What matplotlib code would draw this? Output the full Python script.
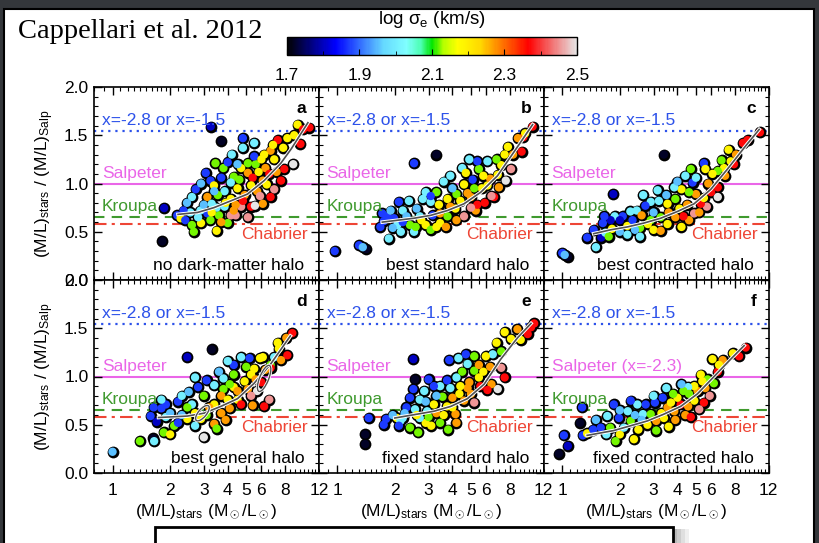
import numpy as np
import matplotlib.pyplot as plt
from matplotlib.colors import LinearSegmentedColormap, Normalize
from matplotlib.cm import ScalarMappable
from matplotlib.patches import Rectangle, Ellipse
from matplotlib.transforms import ScaledTranslation
from matplotlib.ticker import FixedLocator, NullFormatter
import matplotlib.patheffects as pe

plt.rcParams['font.family'] = ['Liberation Sans', 'DejaVu Sans']
plt.rcParams['mathtext.fontset'] = 'custom'
plt.rcParams['mathtext.rm'] = 'Liberation Sans'
plt.rcParams['mathtext.it'] = 'Liberation Sans:italic'
plt.rcParams['mathtext.bf'] = 'Liberation Sans:bold'

# colour levels (log sigma_e)
K, DB, B, LB, C, G, Y, O, R, P, W = 1.72, 1.80, 1.87, 1.95, 2.0, 2.12, 2.19, 2.27, 2.37, 2.45, 2.5

# IMF reference levels
imf_hi, imf_salp, imf_kroupa, imf_chab = 1.54, 1.0, 0.655, 0.58

# ---- panel a: no dark-matter halo
a_x = [1.82, 1.86, 3.26, 3.71,
       9.27, 10.7, 9.9, 8.9, 9.6, 8.2, 7.3, 7.8, 6.7, 7.0, 8.8, 7.9, 7.6, 7.0, 6.2, 5.6, 6.3,
       4.8, 4.8, 5.5, 5.5, 5.1, 4.7, 4.3, 5.1, 5.4, 6.1, 5.7, 6.4, 6.7, 6.1, 5.3, 4.7, 4.15, 3.85, 4.15, 3.7,
       3.07, 3.25, 2.72, 2.6, 3.13, 3.55, 3.3, 3.85, 4.15, 3.6, 3.13, 2.88, 2.55, 2.35, 2.18, 2.27, 2.4, 2.6,
       2.9, 3.25, 2.66, 3.5, 4.0, 4.4, 5.1, 5.55, 3.39, 3.8, 3.45, 4.0,
       4.5, 4.9, 5.3, 4.4, 3.9, 3.5, 3.0, 2.8, 3.3, 3.7, 4.3, 4.8, 5.9, 6.6, 7.2, 5.8, 4.6, 3.4, 2.9, 2.45, 6.0, 6.9, 4.2, 4.5]
a_y = [0.40, 0.745, 1.59, 1.44,
       1.61, 1.58, 1.56, 1.50, 1.41, 1.47, 1.45, 1.37, 1.34, 1.25, 1.20, 1.15, 1.03, 0.94, 1.30, 1.20, 1.16,
       1.47, 1.37, 1.42, 1.28, 1.21, 1.16, 1.07, 1.11, 1.06, 1.03, 0.92, 0.99, 0.86, 0.79, 0.76, 0.76, 0.84, 0.92, 1.01, 1.06,
       1.11, 1.03, 0.94, 0.86, 0.86, 0.88, 0.79, 0.76, 0.67, 0.67, 0.69, 0.72, 0.70, 0.72, 0.67, 0.64, 0.62, 0.57,
       0.59, 0.62, 0.50, 0.51, 0.59, 0.67, 0.65, 0.77, 0.98, 1.16, 1.21, 1.22,
       0.95, 0.88, 0.98, 0.78, 0.80, 0.75, 0.78, 0.65, 0.70, 0.60, 0.72, 0.82, 0.87, 1.10, 1.12, 1.12, 1.04, 0.92, 1.00, 0.80, 1.25, 1.40, 1.30, 1.20]
a_sig = [K, DB, DB, K,
         Y, R, R, Y, R, Y, R, Y, O, Y, W, R, R, P, Y, G, O,
         B, C, C, B, G, Y, G, O, R, O, O, Y, R, O, R, P, Y, C, C, B,
         B, B, B, C, O, G, C, C, P, G, B, C, C, B, B, Y, B, G,
         Y, G, G, Y, G, P, P, W, Y, G, G, B,
         Y, O, Y, O, Y, C, LB, C, Y, O, O, R, P, R, O, Y, G, LB, LB, LB, Y, Y, C, LB]
a_fit_x = [2.2, 2.78, 3.39, 4.15, 5.07, 6.2, 7.58, 8.6, 10.5]
a_fit_y = [0.68, 0.70, 0.75, 0.82, 0.89, 1.03, 1.21, 1.36, 1.63]

# ---- panel b: best standard halo
b_x = [2.52, 3.3, 0.97, 1.30, 1.42, 1.86, 1.36,
       10.5, 9.4, 9.6, 8.8, 9.2, 7.8, 8.3, 8.1, 7.2, 6.9, 7.6, 7.0, 6.6, 6.4, 5.9, 5.3, 6.1, 5.5, 5.4, 6.1,
       5.1, 4.6, 4.5, 3.9, 4.7, 4.2, 4.8, 3.77, 3.6, 3.3, 2.9, 3.08, 3.08, 2.8, 2.37, 2.1, 2.2, 1.72, 1.83, 1.75,
       1.98, 2.06, 2.4, 2.52, 2.9, 3.15, 2.7, 3.45, 3.45, 3.77, 4.15, 4.6, 4.2, 2.57, 2.15, 3.08, 3.3, 5.4, 5.0,
       1.68, 1.9, 2.3, 2.6, 3.9, 4.4, 5.0, 5.7, 6.3, 5.2, 4.0, 3.4, 2.75, 3.7, 6.8, 7.5, 5.8, 4.9, 2.2, 1.95]
b_y = [1.21, 1.30, 0.30, 0.36, 0.32, 0.43, 0.34,
       1.59, 1.48, 1.52, 1.47, 1.33, 1.38, 1.30, 1.15, 1.19, 1.09, 1.03, 0.96, 0.86, 0.87, 0.80, 0.72, 0.98, 1.15, 1.23, 1.23,
       1.04, 0.99, 1.16, 1.08, 1.11, 0.89, 0.90, 0.84, 1.02, 0.91, 0.91, 0.81, 0.87, 0.84, 0.82, 0.81, 0.72, 0.69, 0.66, 0.61,
       0.64, 0.57, 0.57, 0.50, 0.57, 0.67, 0.66, 0.59, 0.69, 0.66, 0.74, 0.66, 0.62, 0.55, 0.50, 0.52, 0.55, 0.78, 0.75,
       0.55, 0.72, 0.66, 0.74, 0.76, 0.82, 0.86, 0.95, 1.05, 0.95, 0.95, 0.78, 0.62, 0.55, 1.25, 1.30, 1.08, 1.25, 0.60, 0.54]
b_sig = [B, K, B, B, K, C, LB,
         R, R, Y, O, R, Y, O, P, Y, Y, W, O, R, P, R, O, Y, G, B, C,
         B, Y, C, C, Y, G, O, Y, C, G, C, C, B, C, C, B, C, B, B, B,
         B, C, G, C, Y, B, C, Y, O, G, Y, P, O, G, C, G, Y, R, P,
         B, LB, LB, LB, O, Y, O, Y, O, G, LB, Y, Y, O, G, Y, Y, C, B, LB]
b_fit_x = [1.72, 2.52, 3.08, 3.77, 4.6, 5.63, 6.88, 8.41, 10.5]
b_fit_y = [0.60, 0.64, 0.67, 0.72, 0.79, 0.91, 1.08, 1.33, 1.61]

# ---- panel c: best contracted halo
c_x = [3.4, 5.5, 1.85, 1.0, 1.07, 1.03,
       10.8, 9.3, 8.8, 8.1, 7.6, 7.9, 7.0, 7.1, 6.5, 6.1, 6.5, 6.5, 6.0, 5.7, 5.3, 5.0, 4.4, 4.8, 5.0, 4.6,
       4.2, 3.85, 3.9, 3.55, 3.2, 2.9, 2.72, 2.45, 2.27, 2.07, 1.88, 1.79, 1.66, 1.46, 1.35, 1.5, 1.6, 1.68, 1.82, 1.63,
       2.0, 2.19, 2.19, 2.55, 2.55, 3.0, 3.27, 3.55, 2.9, 3.9, 4.2, 4.6, 4.89, 3.27, 2.33, 2.6, 3.15,
       2.0, 2.4, 2.8, 3.6, 4.1, 4.5, 5.5, 5.8, 3.5, 4.0, 4.7, 5.6, 6.8, 7.4, 3.0, 1.75, 2.65, 4.3, 5.2]
c_y = [1.30, 1.21, 0.89, 0.28, 0.24, 0.26,
       1.53, 1.45, 1.42, 1.30, 1.23, 1.20, 1.16, 1.08, 1.13, 1.10, 0.96, 0.86, 0.91, 0.76, 0.79, 0.89, 1.08, 1.01, 1.06, 0.91,
       0.94, 0.96, 0.84, 0.79, 0.82, 0.81, 0.77, 0.72, 0.71, 0.66, 0.66, 0.62, 0.66, 0.52, 0.44, 0.34, 0.44, 0.49, 0.53, 0.59,
       0.62, 0.56, 0.47, 0.54, 0.45, 0.52, 0.51, 0.58, 0.62, 0.65, 0.55, 0.62, 0.69, 0.65, 0.62, 0.67, 0.93,
       0.50, 0.52, 0.58, 0.70, 0.74, 0.78, 0.85, 1.00, 0.88, 1.02, 1.15, 1.15, 1.24, 1.35, 0.70, 0.45, 0.88, 0.66, 0.70]
c_sig = [K, B, DB, B, K, LB,
         R, R, R, O, Y, R, Y, O, G, Y, R, W, R, P, R, O, C, B, C, G,
         Y, C, G, Y, C, C, B, C, C, B, C, DB, B, B, B, C, DB, C, Y, B,
         DB, Y, C, G, C, Y, O, Y, G, O, Y, O, P, G, B, O, C,
         LB, LB, Y, O, Y, O, Y, O, LB, LB, G, Y, G, Y, LB, G, C, R, O]
c_fit_x = [1.46, 1.79, 2.19, 2.67, 3.27, 4.0, 4.89, 5.98, 7.31, 8.93, 10.7]
c_fit_y = [0.48, 0.52, 0.55, 0.59, 0.64, 0.71, 0.79, 0.94, 1.15, 1.37, 1.56]

# ---- panel d: best general halo
d_x = [1.0, 3.3, 2.46, 1.63, 1.39, 1.65, 3.0,
       8.7, 8.1, 7.3, 8.2, 7.4, 7.0, 5.9, 5.2, 4.7, 6.7, 6.7, 6.3, 5.5, 4.3, 4.0, 5.3, 6.0, 4.3, 3.8, 5.1,
       5.7, 5.3, 4.3, 3.8, 3.4, 3.1, 2.8, 2.7, 3.7, 4.5, 4.7, 4.1, 3.4, 3.1, 2.9, 3.4, 2.6, 2.2, 1.9, 2.3,
       1.8, 1.8, 1.7, 1.9, 2.1, 2.46, 2.7, 1.85, 1.58, 1.64, 2.0, 3.5, 2.46, 6.2, 6.6,
       2.0, 2.3, 2.7, 3.2, 3.7, 4.0, 4.5, 4.9, 5.6, 3.6, 4.1, 2.5, 3.0, 5.0, 6.1, 7.6, 2.2, 3.9, 5.4]
d_y = [0.22, 1.28, 1.20, 0.36, 0.33, 0.33, 0.37,
       1.45, 1.40, 1.35, 1.22, 1.29, 1.20, 1.19, 1.19, 1.20, 1.12, 1.09, 1.07, 1.08, 1.12, 1.16, 1.02, 0.94, 1.02, 0.98, 0.87,
       0.85, 0.80, 0.89, 0.87, 0.91, 0.96, 0.89, 0.99, 0.80, 0.76, 0.71, 0.67, 0.71, 0.60, 0.56, 0.51, 0.71, 0.74, 0.71, 0.80,
       0.76, 0.67, 0.53, 0.58, 0.49, 0.56, 0.49, 0.42, 0.59, 0.68, 0.40, 0.46, 0.68, 0.69, 0.76,
       0.62, 0.60, 0.62, 0.68, 0.62, 0.76, 0.85, 0.95, 0.97, 1.05, 0.92, 0.84, 0.80, 1.10, 1.20, 1.17, 0.52, 0.55, 0.70]
d_sig = [LB, K, DB, K, G, C, W,
         R, O, Y, R, Y, C, Y, B, C, G, R, O, Y, B, C, Y, R, G, C, O,
         W, P, Y, G, C, B, B, C, O, Y, R, O, Y, G, Y, O, C, B, B, C,
         C, B, DB, C, G, Y, C, G, B, B, Y, G, G, R, P,
         LB, LB, Y, O, O, Y, O, Y, O, LB, G, LB, G, G, Y, O, B, O, O]
d_fit_x = [1.74, 2.46, 3.01, 3.68, 4.5, 5.5, 6.71, 8.5]
d_fit_y = [0.575, 0.59, 0.62, 0.69, 0.77, 0.93, 1.13, 1.42]
d_ell_x = [2.95, 6.2]
d_ell_y = [0.62, 0.98]

# ---- panel e: fixed standard halo
e_x = [2.5, 1.4, 1.4, 1.46, 4.3, 3.85, 2.55,
       10.7, 10.3, 8.75, 7.5, 8.1, 9.9, 9.1, 7.2, 6.5, 5.98, 5.2, 4.7, 4.8, 7.2, 7.5, 6.9, 6.4, 6.1, 5.2, 5.5,
       5.2, 4.9, 4.35, 4.6, 4.2, 3.75, 3.45, 3.2, 3.0, 2.85, 2.5, 2.7, 2.4, 2.3, 2.55, 3.2, 3.75, 3.55, 3.3, 3.1,
       2.9, 2.4, 2.65, 2.2, 1.8, 1.75, 2.05, 2.14, 2.1, 3.45, 4.15, 4.0, 4.8, 2.95, 2.7,
       1.95, 2.25, 2.6, 3.0, 3.6, 4.0, 4.4, 5.0, 5.6, 5.8, 6.3, 3.3, 2.9, 3.9, 4.5, 6.8, 5.5, 4.2, 3.8]
e_y = [1.18, 0.40, 0.30, 0.57, 1.19, 1.17, 0.97,
       1.55, 1.51, 1.49, 1.46, 1.39, 1.44, 1.38, 1.26, 1.23, 1.21, 1.21, 1.23, 1.13, 1.09, 0.99, 0.87, 0.92, 0.86, 0.73, 0.99,
       1.06, 0.94, 0.82, 0.75, 0.99, 0.96, 0.90, 0.90, 0.97, 0.85, 0.87, 0.76, 0.78, 0.68, 0.66, 0.71, 0.69, 0.79, 0.62, 0.49,
       0.52, 0.47, 0.42, 0.57, 0.56, 0.50, 0.57, 0.54, 0.49, 0.52, 0.61, 0.68, 0.88, 0.64, 0.57,
       0.60, 0.62, 0.60, 0.58, 0.60, 0.78, 0.90, 0.82, 0.90, 1.05, 1.10, 0.80, 0.74, 0.88, 1.05, 1.35, 1.12, 0.52, 0.45]
e_sig = [DB, K, K, B, C, B, K,
         R, R, O, Y, Y, R, Y, G, C, Y, G, B, C, P, R, W, O, R, P, Y,
         G, O, Y, O, C, B, C, B, B, C, B, C, B, B, C, Y, Y, G, O, Y,
         Y, G, G, C, B, B, Y, C, B, G, O, Y, O, C, C,
         LB, LB, Y, G, Y, O, Y, O, R, Y, O, LB, LB, C, G, Y, O, O, G]
e_fit_x = [2.0, 2.62, 3.2, 3.92, 4.79, 5.86, 7.16, 8.75, 10.3]
e_fit_y = [0.57, 0.61, 0.64, 0.69, 0.77, 0.92, 1.18, 1.40, 1.55]

# ---- panel f: fixed contracted halo
f_x = [0.96, 1.02, 1.07, 1.24, 1.27,
       9.1, 8.4, 7.8, 6.1, 6.9, 6.5, 5.75, 5.4, 6.2, 5.9, 5.5, 5.1, 4.9, 4.55, 4.6, 3.5, 3.35, 3.05, 2.73, 2.47,
       2.28, 1.86, 1.72, 1.59, 1.78, 2.0, 1.9, 2.37, 2.1, 1.28, 1.35, 2.28, 2.79, 3.1, 3.1, 2.64, 3.4, 3.85, 4.16, 4.55,
       5.2, 4.0, 2.9, 2.2, 1.98, 3.55, 3.7, 3.0, 4.3,
       1.5, 1.7, 2.5, 2.6, 3.3, 3.9, 4.4, 4.9, 5.6, 4.2, 3.8, 2.4, 5.3, 6.6, 1.45, 2.0, 4.7, 3.6]
f_y = [0.20, 0.39, 0.28, 0.52, 0.68,
       1.30, 1.21, 1.24, 1.18, 1.17, 1.05, 0.97, 0.95, 0.93, 0.80, 0.73, 0.85, 0.90, 0.89, 0.82, 0.88, 0.78, 0.73, 0.71, 0.71,
       0.75, 0.71, 0.59, 0.47, 0.47, 0.40, 0.33, 0.35, 0.47, 0.39, 0.41, 0.54, 0.50, 0.54, 0.44, 0.61, 0.57, 0.64, 0.71, 0.69,
       0.66, 0.78, 0.61, 0.64, 0.57, 0.68, 0.73, 0.80, 0.85,
       0.55, 0.40, 0.45, 0.55, 0.62, 0.55, 0.60, 0.75, 0.88, 0.92, 0.82, 0.60, 1.02, 1.12, 0.45, 0.65, 0.58, 0.48]
f_sig = [K, B, DB, K, B,
         R, R, Y, Y, O, R, G, Y, G, P, R, O, Y, C, G, C, B, B, B, C,
         B, B, C, B, G, Y, G, Y, C, B, Y, G, Y, O, G, C, Y, O, R, O,
         P, Y, G, C, B, O, Y, C, G,
         LB, C, Y, LB, Y, O, O, Y, O, LB, G, LB, Y, Y, B, LB, R, Y]
f_fit_x = [1.35, 1.86, 2.28, 2.79, 3.4, 4.16, 5.09, 6.22, 7.6, 8.93]
f_fit_y = [0.39, 0.44, 0.49, 0.54, 0.61, 0.69, 0.82, 1.0, 1.18, 1.32]

panel_labels = ['no dark-matter halo', 'best standard halo', 'best contracted halo',
                'best general halo', 'fixed standard halo', 'fixed contracted halo']
panel_letters = ['a', 'b', 'c', 'd', 'e', 'f']
salp_labels = ['Salpeter'] * 5 + ['Salpeter (x=-2.3)']
xtick_vals = [1, 2, 3, 4, 5, 6, 8, 12]
cbar_ticks = [1.7, 1.9, 2.1, 2.3, 2.5]

# sauron colour map (Cappellari)
nodes = (np.array([1.0, 43.5, 86.0, 106.0, 118.5, 128.5, 138.5, 151.0, 171.0, 213.5, 256.0]) - 1) / 255
red = [0.01, 0.0, 0.4, 0.5, 0.3, 0.0, 0.7, 1.0, 1.0, 1.0, 0.9]
grn = [0.01, 0.0, 0.85, 1.0, 1.0, 0.9, 1.0, 1.0, 0.85, 0.0, 0.9]
blu = [0.01, 1.0, 1.0, 1.0, 0.7, 0.0, 0.0, 0.0, 0.0, 0.0, 0.9]
sauron = LinearSegmentedColormap.from_list('sauron', list(zip(nodes, zip(red, grn, blu))))
norm = Normalize(1.7, 2.5)

WPX, HPX = 820, 543
fig = plt.figure(figsize=(8.2, 5.43), dpi=100, facecolor='#34373b')
fig.add_artist(Rectangle((4 / WPX, -0.01), 810 / WPX, 1.01 - 9 / HPX, transform=fig.transFigure,
                         fc='white', ec='black', lw=1.5, zorder=-5))

c_blue, c_mag, c_green, c_red = '#2d52ea', '#ea66e8', '#3f9a2e', '#ee4535'

panels = [(a_x, a_y, a_sig, a_fit_x, a_fit_y), (b_x, b_y, b_sig, b_fit_x, b_fit_y),
          (c_x, c_y, c_sig, c_fit_x, c_fit_y), (d_x, d_y, d_sig, d_fit_x, d_fit_y),
          (e_x, e_y, e_sig, e_fit_x, e_fit_y), (f_x, f_y, f_sig, f_fit_x, f_fit_y)]
lefts = [94, 318.7, 543.7]
tops = [87, 280]
pw, ph = 225, 193
halo = [pe.Stroke(linewidth=2.6, foreground='white'), pe.Normal()]

for i, (px, py, ps, fx, fy) in enumerate(panels):
    row, col = divmod(i, 3)
    ax = fig.add_axes([lefts[col] / WPX, 1 - (tops[row] + ph) / HPX, pw / WPX, ph / HPX])
    ax.set_xscale('log')
    ax.set_xlim(0.8, 12)
    ax.set_ylim(0, 2)

    ax.axhline(imf_hi, color=c_blue, ls=(0, (1, 2.2)), lw=1.6, zorder=1)
    ax.axhline(imf_salp, color=c_mag, ls='-', lw=1.5, zorder=1)
    ax.axhline(imf_kroupa, color=c_green, ls=(0, (5, 3.5)), lw=1.5, zorder=1)
    ax.axhline(imf_chab, color=c_red, ls=(0, (6, 2.5, 1.5, 2.5)), lw=1.5, zorder=1)

    ax.scatter(px, py, s=72, c='black', lw=0, zorder=3)
    ax.scatter(px, py, s=36, c=ps, cmap=sauron, norm=norm, lw=0, zorder=4)
    ax.plot(fx, fy, color='#505050', lw=1.2, zorder=5, path_effects=halo)
    if i == 3:
        for ex, ey, w, h, ang in zip(d_ell_x, d_ell_y, [0.08, 0.09], [0.19, 0.28], [-40, -22]):
            ell = Ellipse((0, 0), w, h, angle=ang, fc='none', ec='#505050', lw=1.0, zorder=5,
                          transform=fig.dpi_scale_trans + ScaledTranslation(ex, ey, ax.transData))
            ell.set_path_effects([pe.Stroke(linewidth=2.2, foreground='white'), pe.Normal()])
            ax.add_patch(ell)

    yt = ax.get_yaxis_transform()
    ax.text(0.035, 1.65, 'x=-2.8 or x=-1.5', color=c_blue, fontsize=12.5, transform=yt, va='center', zorder=6)
    ax.text(0.035, 1.10, salp_labels[i], color=c_mag, fontsize=12.5, transform=yt, va='center', zorder=6)
    ax.text(0.035, 0.76, 'Kroupa', color=c_green, fontsize=12.5, transform=yt, va='center', zorder=6)
    ax.text(0.95, 0.475, 'Chabrier', color=c_red, fontsize=12.5, transform=yt, va='center', ha='right', zorder=6)
    ax.text(0.935, 0.155, panel_labels[i], color='black', fontsize=12.5, transform=yt, va='center', ha='right', zorder=6)
    ax.text(0.945, 1.78, panel_letters[i], color='black', fontsize=12.5, fontweight='bold', transform=yt,
            va='center', ha='right', zorder=6)

    ax.set_xticks(xtick_vals)
    ax.set_xticklabels([str(v) for v in xtick_vals])
    ax.xaxis.set_minor_locator(FixedLocator(list(np.arange(0.8, 2.0, 0.1)) + list(np.arange(2.2, 4.0, 0.2)) +
                                            list(np.arange(4.5, 12.0, 0.5))))
    ax.xaxis.set_minor_formatter(NullFormatter())
    ax.set_yticks([0, 0.5, 1.0, 1.5, 2.0])
    ax.set_yticklabels(['0.0', '0.5', '1.0', '1.5', '2.0'])
    ax.yaxis.set_minor_locator(FixedLocator(np.arange(0, 2.01, 0.1)))
    ax.tick_params(which='both', direction='in', top=True, right=True, labelsize=12.5,
                   labelbottom=(row == 1), labelleft=(col == 0))
    ax.tick_params(which='major', length=6, width=1)
    ax.tick_params(which='minor', length=3, width=0.8)
    ax.tick_params(axis='x', pad=7)
    ax.tick_params(axis='y', pad=4)
    for sp in ax.spines.values():
        sp.set_linewidth(1.2)

    if row == 1:
        fig.text((lefts[col] + pw / 2) / WPX, 1 - 512 / HPX,
                 r'(M/L)$_{\rm stars}$ (M$_\odot$/L$_\odot$)', ha='center', va='center', fontsize=12.5)

for row in range(2):
    fig.text(45 / WPX, 1 - (tops[row] + ph / 2) / HPX, r'(M/L)$_{\rm stars}$ / (M/L)$_{\rm Salp}$',
             rotation=90, ha='center', va='center', fontsize=12.5)

# colour bar
cax = fig.add_axes([287 / WPX, 1 - 55 / HPX, 290 / WPX, 18 / HPX])
cb = fig.colorbar(ScalarMappable(norm=norm, cmap=sauron), cax=cax, orientation='horizontal')
cb.set_ticks(cbar_ticks)
cb.set_ticklabels(['1.7', '1.9', '2.1', '2.3', '2.5'])
cax.xaxis.set_minor_locator(FixedLocator([1.8, 2.0, 2.2, 2.4]))
cax.tick_params(which='both', direction='in', labelsize=12.5, pad=9, color='black')
cax.tick_params(which='major', length=4)
cax.tick_params(which='minor', length=3)
cb.outline.set_linewidth(1)
fig.text(432 / WPX, 1 - 19 / HPX, r'log σ$_{\rm e}$ (km/s)', ha='center', va='center', fontsize=13.5)

fig.text(18 / WPX, 1 - 32 / HPX, 'Cappellari et al. 2012', family='Liberation Serif', fontsize=20.5,
         ha='left', va='center')

# box at the bottom of the slide with its shadow
for k, a in enumerate([0.55, 0.4, 0.25, 0.12]):
    fig.add_artist(Rectangle(((673 + 4 * k) / WPX, -0.01), 4 / WPX, 0.01 + 14 / HPX, transform=fig.transFigure,
                             fc='#808080', ec='none', alpha=a, zorder=8))
fig.add_artist(Rectangle((155 / WPX, -0.01), 518 / WPX, 0.01 + 16 / HPX, transform=fig.transFigure,
                         fc='white', ec='black', lw=2, zorder=9))

fig.savefig('out.png', dpi=100, facecolor=fig.get_facecolor())
